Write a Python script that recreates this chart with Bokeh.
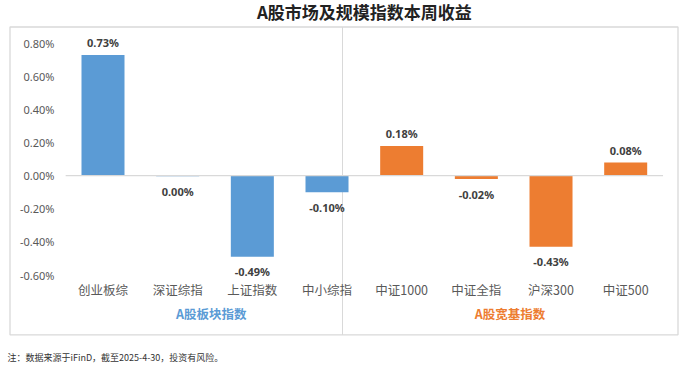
from bokeh.plotting import figure
from bokeh.models import (ColumnDataSource, Range1d, FixedTicker, NumeralTickFormatter, Label)
from bokeh.core.properties import value
from bokeh.embed import file_html
from bokeh.resources import INLINE

# ---------------- data ----------------
categories = ["创业板综", "深证综指", "上证指数", "中小综指", "中证1000", "中证全指", "沪深300", "中证500"]
groups = ["A股板块指数"] * 4 + ["A股宽基指数"] * 4
group_names = ["A股板块指数", "A股宽基指数"]
returns = [0.0073, -0.00004, -0.0049, -0.0010, 0.0018, -0.0002, -0.0043, 0.0008]
value_labels = ["0.73%", "0.00%", "-0.49%", "-0.10%", "0.18%", "-0.02%", "-0.43%", "0.08%"]
y_ticks = [-0.006, -0.004, -0.002, 0.0, 0.002, 0.004, 0.006, 0.008]
title_text = "A股市场及规模指数本周收益"
note_text = "注：数据来源于iFinD，截至2025-4-30，投资有风险。"

# ---------------- styling / geometry ----------------
BLUE, ORANGE = "#5B9BD5", "#ED7D31"
group_colors = {"A股板块指数": BLUE, "A股宽基指数": ORANGE}
GRAY_LINE = "#D9D9D9"
TXT = "#595959"
LBL = "#404040"

FIG_W, FIG_H = 687, 368
BOX_L, BOX_R, BOX_T, BOX_B = 9.5, 677.5, 26.5, 334.3   # chart box in px
X0_PX, X_STEP = 102.5, 74.67               # first category centre, step
Y0_PX, Y_SCALE = 175.2, 16550.0            # zero line, px per unit

def to_x(px):
    return (px - X0_PX) / X_STEP

def to_y(py):
    return (Y0_PX - py) / Y_SCALE

p = figure(width=FIG_W, height=FIG_H, output_backend="svg", toolbar_location=None,
           x_range=Range1d(to_x(0), to_x(FIG_W)),
           y_range=Range1d(to_y(FIG_H), to_y(0)),
           min_border_left=0, min_border_right=0, min_border_top=0, min_border_bottom=0)
p.outline_line_color = None
p.xgrid.visible = False
p.ygrid.visible = False
p.background_fill_color = "white"
p.border_fill_color = "white"

idx = list(range(len(categories)))
colors = [group_colors[g] for g in groups]
src = ColumnDataSource(dict(x=idx, top=returns, color=colors))

# chart box
p.quad(left=[to_x(BOX_L)], right=[to_x(BOX_R)], top=[to_y(BOX_T)], bottom=[to_y(BOX_B)],
       fill_color=None, line_color=GRAY_LINE, line_width=1.3)

# separator between groups
sep_x = to_x(342)
p.segment(x0=[sep_x], y0=[to_y(BOX_T)], x1=[sep_x], y1=[to_y(BOX_B)],
          line_color=GRAY_LINE, line_width=1)

# bars
p.vbar(x="x", top="top", bottom=0, width=0.576, fill_color="color", line_color=None, source=src)

# zero line across the category area
p.segment(x0=[-0.5], y0=[0], x1=[len(categories) - 0.5], y1=[0], line_color=GRAY_LINE, line_width=1.2)

# value labels
pos = [i for i, v in enumerate(returns) if v >= 0]
neg = [i for i, v in enumerate(returns) if v < 0]
for sel, off in ((pos, -12), (neg, 15)):
    s = ColumnDataSource(dict(x=[idx[i] for i in sel], y=[returns[i] for i in sel],
                              t=[value_labels[i] for i in sel]))
    p.text(x="x", y="y", text="t", source=s, text_align="center", text_baseline="middle",
           y_offset=off, text_font_size="11px", text_font_style="bold", text_color=LBL,
           text_font=value("Noto Sans"))

# y axis (inside frame)
ya = p.yaxis[0]
ya.fixed_location = to_x(64)
ya.ticker = FixedTicker(ticks=y_ticks)
ya.formatter = NumeralTickFormatter(format="0.00%")
ya.axis_line_color = None
ya.major_tick_line_color = None
ya.minor_tick_line_color = None
ya.major_label_standoff = 4
ya.major_label_text_font = "Noto Sans"
ya.major_label_text_font_size = "11px"
ya.major_label_text_color = TXT

# x axis (inside frame)
xa = p.xaxis[0]
xa.fixed_location = to_y(269)
xa.ticker = FixedTicker(ticks=idx)
xa.major_label_overrides = {i: c for i, c in zip(idx, categories)}
xa.axis_line_color = None
xa.major_tick_line_color = None
xa.minor_tick_line_color = None
xa.major_label_standoff = 4
xa.major_label_text_font = "Noto Sans CJK SC"
xa.major_label_text_font_size = "12.5px"
xa.major_label_text_color = TXT

# group labels
for gname in group_names:
    members = [i for i, g in enumerate(groups) if g == gname]
    p.add_layout(Label(x=sum(members) / len(members) - 0.05, y=to_y(313), text=gname,
                       text_align="center", text_baseline="middle",
                       text_font="Noto Sans CJK SC", text_font_style="bold",
                       text_font_size="12.5px", text_color=group_colors[gname]))

# title and note
p.add_layout(Label(x=(len(categories) - 1) / 2, y=to_y(11), text=title_text,
                   text_align="center", text_baseline="middle",
                   text_font="Noto Sans CJK SC", text_font_style="bold",
                   text_font_size="17px", text_color="#222222"))
p.add_layout(Label(x=to_x(7), y=to_y(357), text=note_text,
                   text_align="left", text_baseline="middle",
                   text_font="Noto Sans CJK SC", text_font_size="9px", text_color="#333333"))

open("out.html", "w").write(file_html(p, INLINE))
